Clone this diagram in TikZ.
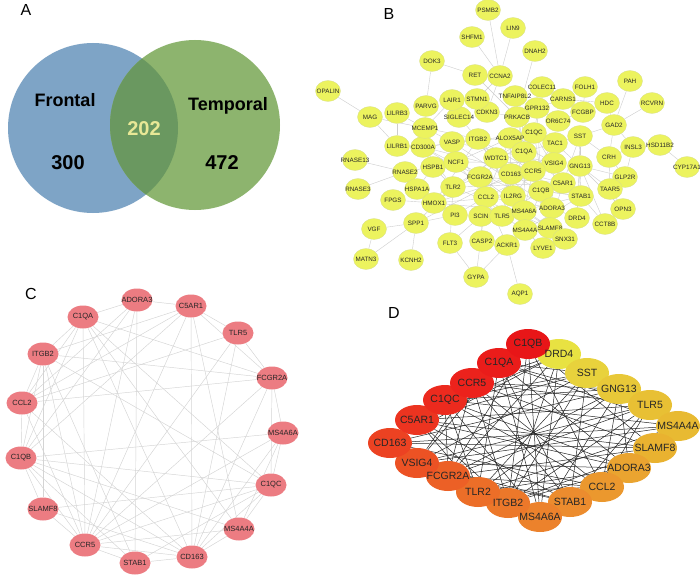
\documentclass[tikz,border=0pt]{standalone}
\usepackage{fontspec}
\setmainfont{Liberation Sans}
\usetikzlibrary{backgrounds,shapes.geometric}
\pgfdeclarelayer{bottom}
\pgfsetlayers{bottom,background,main}
\definecolor{vblue}{RGB}{126,164,198}
\definecolor{vgreen}{RGB}{141,180,110}
\definecolor{vover}{RGB}{106,152,96}
\definecolor{vnum}{RGB}{232,232,150}
\definecolor{byel}{RGB}{236,243,94}
\definecolor{bborder}{RGB}{215,222,140}
\definecolor{bline}{RGB}{205,205,205}
\definecolor{cpink}{RGB}{236,124,130}
\definecolor{cline}{RGB}{212,212,212}
\tikzset{
  panel/.style={font=\fontsize{16}{16}\selectfont, inner sep=0pt},
  vlab/.style={font=\bfseries\fontsize{18}{18}\selectfont, inner sep=0pt},
  vnumst/.style={font=\bfseries\fontsize{20}{20}\selectfont, inner sep=0pt},
  btext/.style={font=\fontsize{6.3}{6.3}\selectfont, inner sep=0pt, text=black!85},
  bnode/.style={ellipse, fill=byel, draw=bborder, line width=0.3pt, minimum width=25pt, minimum height=21pt, inner sep=0pt, label={[btext]center:#1}},
  bedge/.style={draw=bline, line width=0.4pt},
  ctext/.style={font=\fontsize{7.5}{7.5}\selectfont, inner sep=0pt, text=black!85},
  cnode/.style={ellipse, fill=cpink, draw=none, minimum width=31pt, minimum height=23pt, inner sep=0pt, label={[ctext]center:#1}},
  cedge/.style={draw=cline, line width=0.45pt},
  dtext/.style={font=\fontsize{10.5}{10.5}\selectfont, inner sep=0pt, text=black!85},
  dnode/.style={ellipse, draw=none, minimum width=44pt, minimum height=30pt, inner sep=0pt},
  dedge/.style={draw=black!85, line width=0.5pt},
}
\begin{document}
\begin{tikzpicture}[x=1pt,y=-1pt]
\begin{pgfonlayer}{bottom}
\fill[white] (0,0) rectangle (700,580);
\end{pgfonlayer}
\useasboundingbox (0,0) rectangle (700,580);

% ---------- Panel A ----------
\node[panel] (labA) at (26,10) {A};
\fill[vblue] (93,128) circle (85pt);
\fill[vgreen] (195,125) circle (85pt);
\begin{scope}
  \clip (93,128) circle (85pt);
  \fill[vover] (195,125) circle (85pt);
\end{scope}
\node[vlab] (frontal) at (65,100) {Frontal};
\node[vlab] (temporal) at (228,106) {Temporal};
\node[vnumst, text=vnum] (n202) at (144,129) {202};
\node[vnumst] (n300) at (68,163) {300};
\node[vnumst] (n472) at (222,163) {472};

% ---------- Panel B ----------
\node[panel] (labB) at (389,14) {B};
\foreach \n/\x/\y in {
 PSMB2/488/10, LIN9/513/28, SHFM1/472/37, DNAH2/535/51, DOK3/432/61,
 RET/475/75, CCNA2/500/76, COLEC11/542/87, TNFAIP8L2/515/96, FOLH1/585/87,
 PAH/630/81, RCVRN/652/103, HDC/607/103, CARNS1/563/99, FCGBP/583/112,
 GPR132/537/108, OR6C74/558/121, GAD2/614/125, SST/580/136, TAC1/555/143,
 C1QC/534/133, ALOX5AP/510/138, ITGB2/478/139, VASP/452/142, CD300A/423/147,
 LILRB1/397/146, MCEMP1/425/128, SIGLEC14/459/117, CDKN3/487/112, PRKACB/517/117,
 STMN1/477/99, LAIR1/452/100, PARVG/426/106, LILRB3/397/113, MAG/370/117,
 OPALIN/328/91, INSL3/633/147, HSD11B2/660/145, CYP17A1/687/167,
 RNASE13/355/160, RNASE2/405/172, HSPB1/433/167, NCF1/456/162, WDTC1/496/158,
 C1QA/524/152, VSIG4/554/163, GNG13/580/166, CRH/609/157, GLP2R/625/177,
 FCGR2A/480/177, CD163/511/174, CCR5/533/171, C5AR1/563/183, TAAR5/610/189,
 RNASE3/358/189, HSPA1A/417/189, TLR2/453/187, CCL2/486/197, IL2RG/513/196,
 C1QB/541/191, STAB1/581/196, FPGS/393/200, HMOX1/434/203, PI3/455/215,
 SCIN/481/216, TLR5/502/216, MS4A6A/524/211, ADORA3/552/208, DRD4/577/218,
 OPN3/623/209, CCT8B/605/224, VGF/374/229, SPP1/416/223, MS4A4A/525/230,
 SLAMF8/550/228, SNX31/565/239, FLT3/450/243, CASP2/482/241, ACKR1/507/245,
 LYVE1/543/248, MATN3/366/259, KCNH2/411/260, GYPA/476/277, AQP1/520/294}
 {\node[bnode=\n] (b\n) at (\x,\y) {};}
\begin{pgfonlayer}{background}
\foreach \u/\v in {
 PSMB2/CCNA2, LIN9/CCNA2, SHFM1/CCNA2, DNAH2/PRKACB, DOK3/RET, DOK3/PARVG,
 RET/CCNA2, CCNA2/CDKN3, CCNA2/STMN1, RET/PRKACB, COLEC11/C1QC, FOLH1/FCGBP,
 FOLH1/CARNS1, PAH/GAD2, RCVRN/GAD2, HDC/GAD2, HDC/CARNS1, GAD2/SST, GAD2/CRH,
 INSL3/CRH, INSL3/GLP2R, HSD11B2/CYP17A1, INSL3/GAD2, CRH/GLP2R, CRH/SST, CRH/TAAR5,
 GLP2R/GNG13, TAAR5/GNG13, OPN3/TAAR5, OPN3/GNG13, CCT8B/STAB1, CCT8B/GNG13,
 SST/GNG13, SST/TAC1, TAC1/GNG13, FCGBP/OR6C74, OR6C74/GPR132, GPR132/PRKACB,
 CARNS1/GPR132, MAG/MCEMP1, MAG/LILRB1, OPALIN/MAG, LILRB3/MCEMP1, LILRB3/LILRB1,
 LILRB1/CD300A, PARVG/MCEMP1, LAIR1/SIGLEC14, LAIR1/MCEMP1, MCEMP1/ITGB2, MCEMP1/VASP,
 STMN1/CDKN3, SIGLEC14/ITGB2, CDKN3/PRKACB, RNASE13/RNASE2, RNASE3/RNASE2, RNASE2/NCF1,
 RNASE2/HSPA1A, HSPB1/HSPA1A, HSPB1/NCF1, HSPA1A/HMOX1, FPGS/HMOX1, HMOX1/TLR2,
 VGF/SPP1, MATN3/VGF, MATN3/SPP1, KCNH2/SPP1, SPP1/PI3, SPP1/TLR2, SPP1/CD163,
 FLT3/GYPA, FLT3/SCIN, GYPA/ACKR1, GYPA/CCL2, AQP1/ACKR1, ACKR1/CCL2, CASP2/SCIN,
 CASP2/ACKR1, LYVE1/MS4A4A, LYVE1/SLAMF8, SNX31/SLAMF8, DRD4/GNG13, DRD4/SST,
 DRD4/ADORA3, STAB1/C1QB, TNFAIP8L2/C1QA, TNFAIP8L2/CCR5, PRKACB/C1QA, GPR132/C1QB,
 TAC1/CCR5, GNG13/STAB1, FLT3/TLR2, CD300A/ITGB2, HSPB1/TLR2, PI3/CCL2, SCIN/MS4A6A,
 TLR5/CCL2, VASP/ITGB2, ALOX5AP/CD163, SST/C5AR1, TAC1/C1QA}
 {\draw[bedge] (b\u) -- (b\v);}
\foreach \a [count=\i] in {ITGB2,ALOX5AP,C1QC,C1QA,WDTC1,NCF1,FCGR2A,CD163,CCR5,VSIG4,C5AR1,C1QB,IL2RG,CCL2,TLR2,TLR5,MS4A6A,ADORA3,SLAMF8,MS4A4A,HMOX1,VASP,CD300A,STAB1}{
  \foreach \b [count=\j] in {ITGB2,ALOX5AP,C1QC,C1QA,WDTC1,NCF1,FCGR2A,CD163,CCR5,VSIG4,C5AR1,C1QB,IL2RG,CCL2,TLR2,TLR5,MS4A6A,ADORA3,SLAMF8,MS4A4A,HMOX1,VASP,CD300A,STAB1}{
    \pgfmathtruncatemacro\ok{(\i<\j)&&(mod(\i*5+\j*3,4)==0)}
    \ifnum\ok=1 \draw[bedge] (b\a) -- (b\b);\fi
  }}
\end{pgfonlayer}

% ---------- Panel C ----------
\node[panel] (labC) at (31,294) {C};
\foreach \n/\x/\y in {
 ADORA3/137/300, C5AR1/191/306, TLR5/238/333, FCGR2A/272/378, MS4A6A/283/433,
 C1QC/271/485, MS4A4A/239/529, CD163/192/557, STAB1/135/563, CCR5/85/545,
 SLAMF8/43/509, C1QB/21/458, CCL2/22/403, ITGB2/43/354, C1QA/83/317}
 {\node[cnode=\n] (c\n) at (\x,\y) {};}
\begin{pgfonlayer}{background}
\foreach \u/\v in {
 ADORA3/C5AR1, ADORA3/C1QA, ADORA3/CCR5, ADORA3/STAB1, ADORA3/CCL2, ADORA3/C1QB,
 C5AR1/TLR5, C5AR1/FCGR2A, C5AR1/CD163, C5AR1/CCL2, C5AR1/C1QB, C5AR1/CCR5, C5AR1/MS4A4A, C5AR1/ITGB2,
 TLR5/FCGR2A, TLR5/CCL2, TLR5/CCR5, TLR5/CD163,
 FCGR2A/MS4A6A, FCGR2A/C1QA, FCGR2A/ITGB2, FCGR2A/CCL2, FCGR2A/CCR5, FCGR2A/CD163, FCGR2A/C1QC,
 MS4A6A/C1QC, MS4A6A/C1QB, MS4A6A/CCR5, MS4A6A/CD163, MS4A6A/MS4A4A,
 C1QC/C1QA, C1QC/C1QB, C1QC/SLAMF8, C1QC/STAB1, C1QC/CCR5, C1QC/CD163, C1QC/MS4A4A, C1QC/ITGB2,
 MS4A4A/CD163, MS4A4A/C1QB, MS4A4A/C1QA, MS4A4A/CCR5,
 CD163/STAB1, CD163/C1QA, CD163/C1QB, CD163/CCR5, CD163/SLAMF8, CD163/CCL2,
 STAB1/CCR5, STAB1/C1QB, STAB1/ITGB2,
 CCR5/SLAMF8, CCR5/C1QB, CCR5/C1QA, CCR5/ITGB2, CCR5/CCL2,
 SLAMF8/C1QB, SLAMF8/ITGB2, C1QB/CCL2, C1QB/ITGB2, C1QB/C1QA,
 CCL2/ITGB2, CCL2/C1QA, ITGB2/C1QA}
 {\draw[cedge] (c\u) -- (c\v);}
\end{pgfonlayer}

% ---------- Panel D ----------
\node[panel] (labD) at (394,313) {D};
\foreach \k/\n/\x/\y/\r/\g/\bb in {
 19/DRD4/559/354/232/226/66, 18/SST/587/373/232/210/60, 17/GNG13/619/389/232/200/56,
 16/TLR5/650/405/232/192/52, 15/MS4A4A/678/426/232/186/50, 14/SLAMF8/655/448/233/178/48,
 13/ADORA3/629/468/234/164/48, 12/CCL2/602/487/235/152/46, 11/STAB1/570/502/236/140/46,
 10/MS4A6A/540/517/236/130/44, 9/ITGB2/508/503/236/120/42, 8/TLR2/478/492/236/110/40,
 7/FCGR2A/448/476/236/96/38, 6/VSIG4/417/463/236/82/36, 5/CD163/390/443/236/66/34,
 4/C5AR1/417/420/236/52/32, 3/C1QC/445/400/236/42/30, 2/CCR5/472/383/236/34/28,
 1/C1QA/499/363/234/28/26, 0/C1QB/528/344/232/22/24}
 {\definecolor{dcol}{RGB}{\r,\g,\bb}
  \node[dnode, fill=dcol] (d\k) at (\x,\y) {};}
\foreach \k/\n in {19/DRD4, 18/SST, 17/GNG13, 16/TLR5, 15/MS4A4A, 14/SLAMF8,
 13/ADORA3, 12/CCL2, 11/STAB1, 10/MS4A6A, 9/ITGB2, 8/TLR2, 7/FCGR2A, 6/VSIG4,
 5/CD163, 4/C5AR1, 3/C1QC, 2/CCR5, 1/C1QA, 0/C1QB}
 {\node[dtext] (dl\k) at (d\k) {\n};}
\begin{pgfonlayer}{background}
\foreach \i in {0,...,18}{
  \pgfmathtruncatemacro\js{\i+1}
  \foreach \j in {\js,...,19}{
    \pgfmathtruncatemacro\ok{(\i+\j<=30)&&(\j-\i>2)&&(mod(\i*7+\j*3,5)<3)}
    \ifnum\ok=1 \draw[dedge] (d\i) -- (d\j);\fi
  }}
\end{pgfonlayer}
\end{tikzpicture}
\end{document}
